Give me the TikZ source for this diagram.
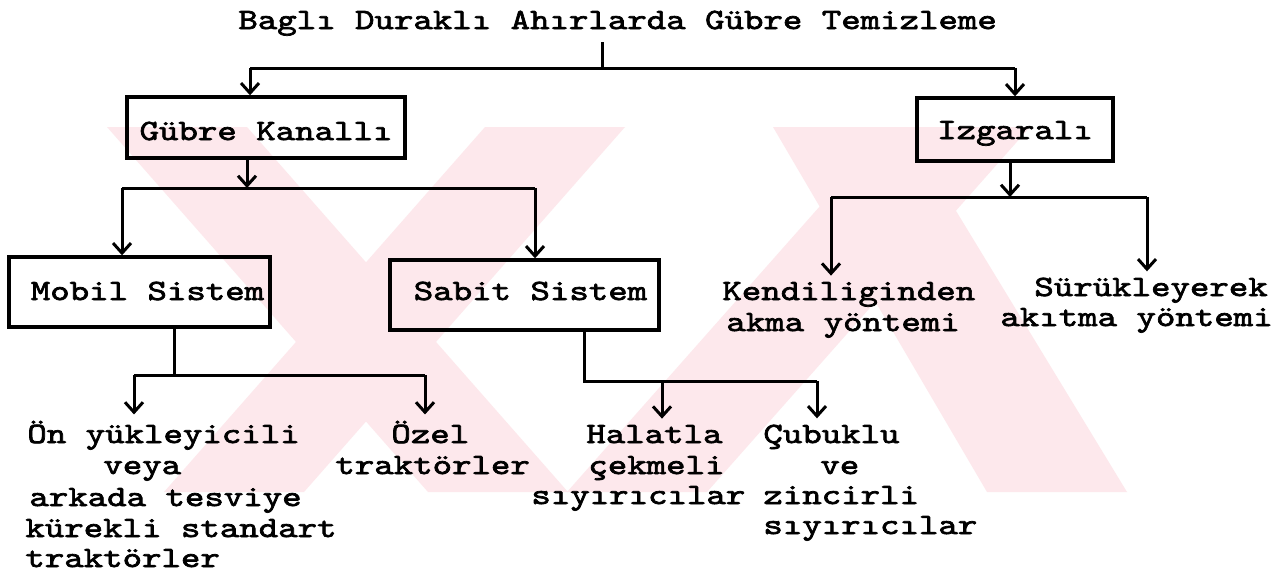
\documentclass[tikz,border=0pt]{standalone}
\usepackage{fontspec}
\newfontfamily\tw{lmmono10-regular.otf}[FakeStretch=1.26, FakeBold=2.4]
\usetikzlibrary{arrows.meta}
\definecolor{wm}{RGB}{253,232,236}
\tikzset{
  x=0.5pt, y=-0.5pt,
  txt/.style={font=\tw\fontsize{14.7}{15}\selectfont},
  lbl/.style={txt, inner xsep=0pt, inner ysep=3pt, anchor=base west},
  box/.style={txt, draw, line width=1.7pt, inner sep=0pt},
  ln/.style={line width=1.5pt},
  arr/.style={ln, -{Straight Barb[length=5pt,width=9pt,line width=1.5pt]}},
}
\begin{document}
\begin{tikzpicture}
\useasboundingbox[fill=white] (0,0) rectangle (1275,579);
% watermark
\fill[wm] (107,127) -- (247,127) -- (568,492) -- (428,492) -- cycle;
\fill[wm] (485,127) -- (625,127) -- (304,492) -- (164,492) -- cycle;
\fill[wm] (773,127) -- (905,127) -- (1127,492) -- (987,492) -- cycle;
\fill[wm] (890,127) -- (1030,127) -- (707,492) -- (567,492) -- cycle;

% title
\node[lbl] (t) at (238,29) {Baglı Duraklı Ahırlarda Gübre Temizleme};

% boxes
\node[box, minimum width=139pt, text height=21.5pt, text depth=9pt] (gk) at (266,127.5) {Gübre Kanallı};
\node[box, minimum width=98pt, text height=20.5pt, text depth=11pt] (iz) at (1015,129.5) {Izgaralı};
\node[box, minimum width=130.5pt, text height=21.5pt, text depth=13.5pt] (mo) at (139.5,292) {\hspace{8pt}Mobil Sistem};
\node[box, minimum width=134.5pt, text height=20pt, text depth=15pt] (sa) at (524.5,295) {\hspace{6pt}Sabit Sistem};

% leaf texts
\node[lbl] (k1) at (722,300) {Kendiliginden};
\node[lbl] (k2) at (726,331) {akma yöntemi};
\node[lbl] (s1) at (1034,296) {Sürükleyerek};
\node[lbl] (s2) at (1000,326) {akıtma yöntemi};

\node[lbl] (on1) at (27,443) {Ön yükleyicili};
\node[lbl] (on2) at (103,474) {veya};
\node[lbl] (on3) at (29,506) {arkada tesviye};
\node[lbl] (on4) at (25,537) {kürekli standart};
\node[lbl] (on5) at (25,567) {traktörler};

\node[lbl] (oz1) at (391,443) {Özel};
\node[lbl] (oz2) at (335,474) {traktörler};

\node[lbl] (ha1) at (586,443) {Halatla};
\node[lbl] (ha2) at (588,474) {çekmeli};
\node[lbl] (ha3) at (531,504) {sıyırıcılar};

\node[lbl] (cu1) at (763,443) {Çubuklu};
\node[lbl] (cu2) at (820,474) {ve};
\node[lbl] (cu3) at (763,504) {zincirli};
\node[lbl] (cu4) at (763,534) {sıyırıcılar};

% junction coordinates
\coordinate (j1) at (602,68);
\coordinate (j1L) at (250,68);
\coordinate (j1R) at (1015,68);
\coordinate (j2) at (247,188);
\coordinate (j2L) at (122,188);
\coordinate (j2R) at (535,188);
\coordinate (j3) at (1010,197);
\coordinate (j3L) at (831,197);
\coordinate (j3R) at (1147,197);
\coordinate (j4) at (174,375);
\coordinate (j4L) at (134,375);
\coordinate (j4R) at (425,375);
\coordinate (j5) at (584,381);
\coordinate (j5M) at (662,381);
\coordinate (j5R) at (817,381);

% connectors
\draw[ln] (t.south -| j1) -- (j1);
\draw[ln] (j1L) -- (j1R);
\draw[arr] (j1L) -- (gk.north -| j1L);
\draw[arr] (j1R) -- (iz.north -| j1R);

\draw[arr] (gk.south -| j2) -- (j2);
\draw[ln] (j2L) -- (j2R);
\draw[arr] (j2L) -- (mo.north -| j2L);
\draw[arr] (j2R) -- (sa.north -| j2R);

\draw[arr] (iz.south -| j3) -- (j3);
\draw[ln] (j3L) -- (j3R);
\draw[arr] (j3L) -- (k1.north -| j3L);
\draw[arr] (j3R) -- (s1.north -| j3R);

\draw[ln] (mo.south -| j4) -- (j4);
\draw[ln] (j4L) -- (j4R);
\draw[arr] (j4L) -- (on1.north -| j4L);
\draw[arr] (j4R) -- (oz1.north -| j4R);

\draw[ln] (sa.south -| j5) -- (j5) -- (j5R);
\draw[arr] (j5M) -- (ha1.north -| j5M);
\draw[arr] (j5R) -- (cu1.north -| j5R);
\end{tikzpicture}
\end{document}
